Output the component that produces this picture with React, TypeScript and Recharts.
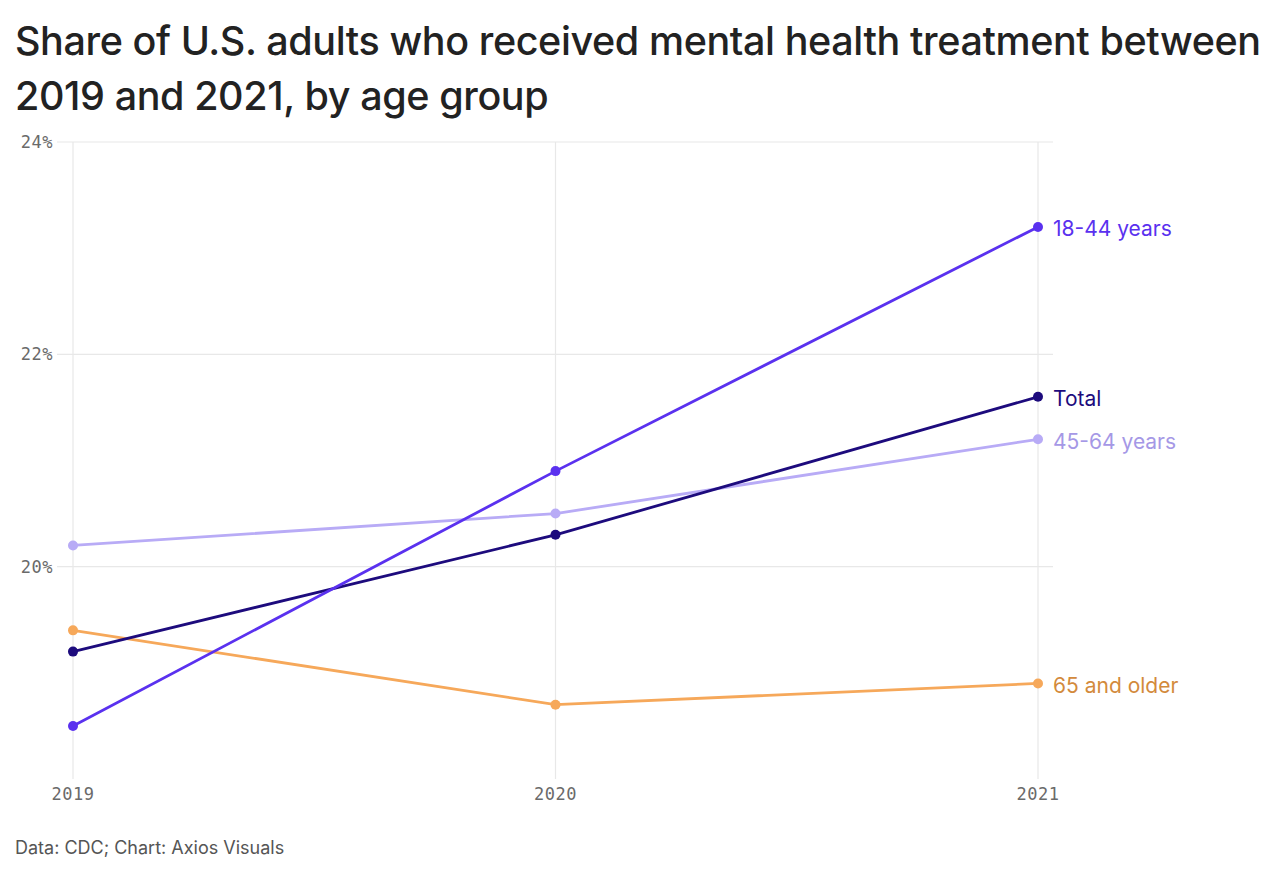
import { CartesianGrid, Line, LineChart, XAxis, YAxis } from "recharts";

const years = ["2019", "2020", "2021"];
const young = [18.5, 20.9, 23.2];
const total = [19.2, 20.3, 21.6];
const middle = [20.2, 20.5, 21.2];
const older = [19.4, 18.7, 18.9];
const yTicks = [20, 22, 24];

const seriesInfo = [
  { key: "middle", name: "45-64 years", stroke: "#b8abf6", text: "#a598e6" },
  { key: "older", name: "65 and older", stroke: "#f6a85a", text: "#d38a3c" },
  { key: "total", name: "Total", stroke: "#1d0b7d", text: "#1d0b7d" },
  { key: "young", name: "18-44 years", stroke: "#5a31ef", text: "#5a31ef" },
];

const data = years.map((year, i) => ({
  year,
  young: young[i],
  total: total[i],
  middle: middle[i],
  older: older[i],
}));

const endLabel = (name: string, color: string) => (props: any) => {
  const { x, y, index } = props;
  if (index !== years.length - 1) return null;
  return (
    <text
      x={x + 15}
      y={y + 2}
      dy="0.35em"
      fill={color}
      fontSize={21}
      fontFamily="Inter, sans-serif"
    >
      {name}
    </text>
  );
};

const monoTick = {
  fill: "#6a6a6a",
  fontSize: 17,
  fontFamily: "'DejaVu Sans Mono', monospace",
  letterSpacing: 0.5,
};

const App = () => {
  return (
    <div
      style={{
        position: "relative",
        width: 1264,
        height: 857,
        fontFamily: "Inter, sans-serif",
        background: "#fff",
      }}
    >
      <div
        style={{
          position: "absolute",
          left: 7,
          top: 6,
          fontSize: 39.5,
          fontWeight: 500,
          lineHeight: "55px",
          color: "#222",
          whiteSpace: "nowrap",
          letterSpacing: -0.4,
        }}
      >
        Share of U.S. adults who received mental health treatment between
        <br />
        2019 and 2021, by age group
      </div>
      <div style={{ position: "absolute", left: 0, top: 112 }}>
        <LineChart
          width={1264}
          height={701}
          data={data}
          margin={{ top: 22, right: 219, bottom: 0, left: 5 }}
        >
          <CartesianGrid
            stroke="#e8e8e8"
            strokeWidth={1.2}
            horizontalValues={yTicks}
            verticalValues={years}
          />
          <XAxis
            dataKey="year"
            axisLine={false}
            tickLine={false}
            tickSize={0}
            tickMargin={9}
            height={42}
            padding={{ left: 16, right: 15 }}
            tick={monoTick}
          />
          <YAxis
            domain={[18, 24]}
            ticks={yTicks}
            axisLine={false}
            tickLine={false}
            tickSize={0}
            tickMargin={4}
            width={44}
            tick={monoTick}
            tickFormatter={(v: number) => `${v}%`}
          />
          {seriesInfo.map((s) => (
            <Line
              key={s.key}
              dataKey={s.key}
              name={s.name}
              stroke={s.stroke}
              strokeWidth={2.8}
              dot={{ r: 5, fill: s.stroke, stroke: s.stroke, strokeWidth: 0 }}
              label={endLabel(s.name, s.text)}
              isAnimationActive={false}
            />
          ))}
        </LineChart>
      </div>
      <div
        style={{
          position: "absolute",
          left: 7,
          top: 829,
          fontSize: 18,
          color: "#555",
        }}
      >
        Data: CDC; Chart: Axios Visuals
      </div>
    </div>
  );
};

export default App;
